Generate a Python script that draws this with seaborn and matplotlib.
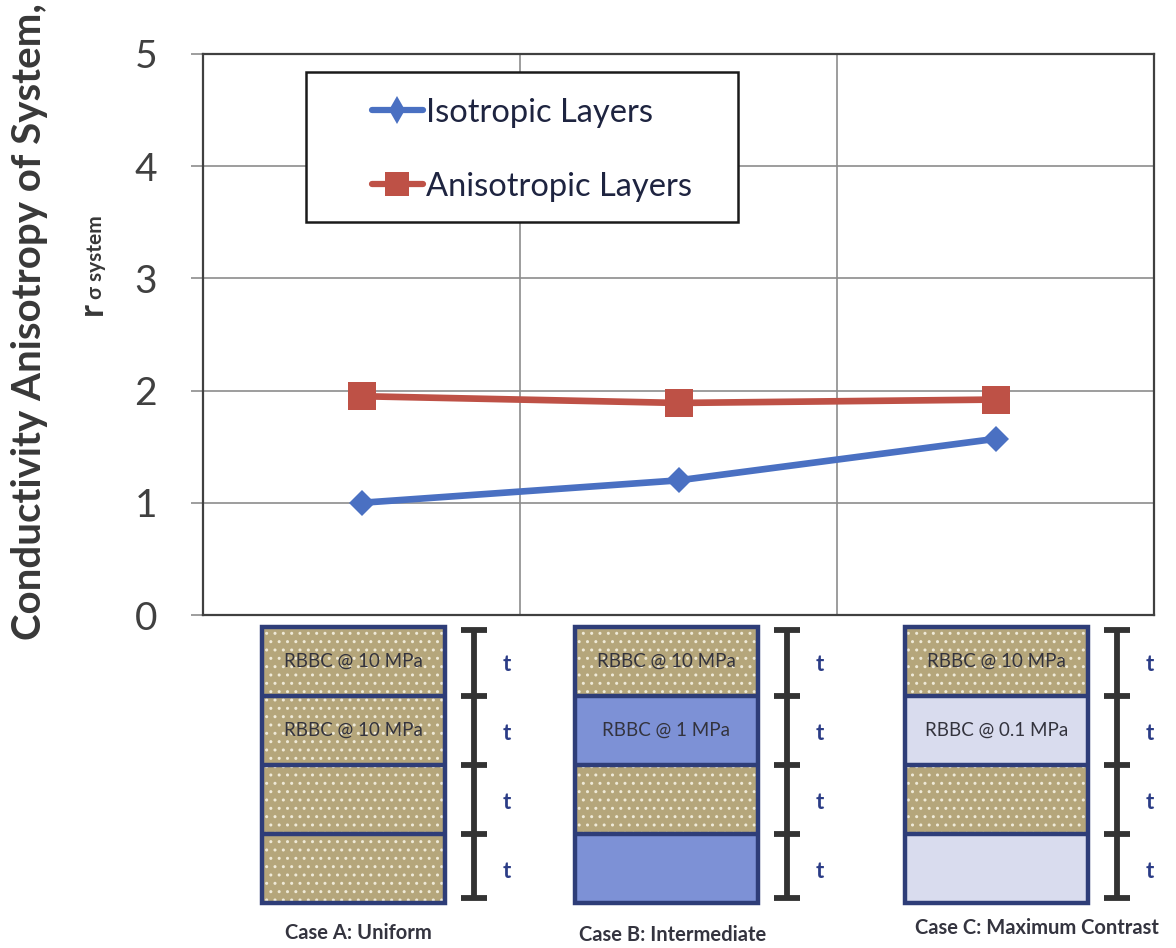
import numpy as np
import pandas as pd
import matplotlib
matplotlib.use("Agg")
import matplotlib.pyplot as plt
from matplotlib.patches import Rectangle
from matplotlib.lines import Line2D
import seaborn as sns

# ---- data -------------------------------------------------------------
cases = ["Case A: Uniform", "Case B: Intermediate", "Case C: Maximum Contrast"]
isotropic = [1.00, 1.20, 1.57]
anisotropic = [1.95, 1.89, 1.92]
series_names = ["Isotropic Layers", "Anisotropic Layers"]
y_ticks = [0, 1, 2, 3, 4, 5]

# layer stacks drawn beneath each case, top to bottom (consolidation stress, MPa)
layer_stress = [
    ["10", "10", "10", "10"],
    ["10", "1", "10", "1"],
    ["10", "0.1", "10", "0.1"],
]
layer_text = [
    ["RBBC @ 10 MPa", "RBBC @ 10 MPa", "", ""],
    ["RBBC @ 10 MPa", "RBBC @ 1 MPa", "", ""],
    ["RBBC @ 10 MPa", "RBBC @ 0.1 MPa", "", ""],
]
thickness_label = "t"

# ---- styling ------------------------------------------------------------
W, H = 1176, 948
sns.set_theme(style="white")
plt.rcParams["font.family"] = ["Lato", "DejaVu Sans"]
plt.rcParams["hatch.linewidth"] = 1.0

colors = {"Isotropic Layers": "#4A70C2", "Anisotropic Layers": "#BE5146"}
markers = {"Isotropic Layers": ("D", 13.5), "Anisotropic Layers": ("s", 19.5)}
layer_fill = {"10": "#B5A67B", "1": "#7D91D6", "0.1": "#D9DCEE"}
layer_dotted = {"10": True, "1": False, "0.1": False}
frame_col = "#2E3D78"
text_dark = "#383838"

df = pd.DataFrame({
    "case": cases * 2,
    "pos": list(range(1, len(cases) + 1)) * 2,
    "value": isotropic + anisotropic,
    "series": [series_names[0]] * len(cases) + [series_names[1]] * len(cases),
})

fig = plt.figure(figsize=(W / 100, H / 100), dpi=100)
ax = fig.add_axes([203 / W, 1 - 615 / H, 951 / W, 561 / H])

for name in series_names:
    m, ms = markers[name]
    sns.lineplot(data=df[df["series"] == name], x="pos", y="value",
                 color=colors[name], linewidth=4.8, marker=m, markersize=ms,
                 markeredgewidth=0, errorbar=None, legend=False, ax=ax, zorder=3)

ax.set_xlim(0.5, 3.5)
ax.set_ylim(0, 5)
ax.set_xticks([0.5, 1.5, 2.5, 3.5])
ax.set_xticklabels([])
ax.set_yticks(y_ticks)
ax.set_yticklabels([str(v) for v in y_ticks])
ax.set_xlabel("")
ax.set_ylabel("")
ax.grid(True, color="#8C8C8C", linewidth=1.2)
ax.tick_params(axis="x", length=0)
ax.tick_params(axis="y", labelsize=28, labelcolor="#404040", length=9,
               width=1.2, color="#8C8C8C", pad=24, left=True)
for sp in ax.spines.values():
    sp.set_visible(True)
    sp.set_color("#404040")
    sp.set_linewidth(1.6)

# legend box
ax.add_patch(Rectangle((0.108, 0.700), 0.455, 0.268, transform=ax.transAxes,
                       facecolor="white", edgecolor="#1A1A1A", linewidth=1.8,
                       zorder=4))
handles = [
    Line2D([], [], color=colors["Isotropic Layers"], linewidth=4.5,
           marker="d", markersize=14, markeredgewidth=0),
    Line2D([], [], color=colors["Anisotropic Layers"], linewidth=4.5,
           marker="s", markersize=17, markeredgewidth=0),
]
leg = ax.legend(handles, series_names, loc="upper left",
                bbox_to_anchor=(0.1777, 0.922), frameon=False, borderpad=0,
                borderaxespad=0, fontsize=23.5, handlelength=1.55,
                handletextpad=0.1, labelspacing=1.35, labelcolor="#1E2440")
leg.set_zorder(5)

# axis title
fig.text(30 / W, 1 - 322 / H, "Conductivity Anisotropy of System,",
         rotation=90, ha="center", va="center", fontsize=29,
         fontweight="bold", color=text_dark)
fig.text(92 / W, 1 - 309 / H, "r", rotation=90, ha="center", va="center",
         fontsize=25, fontweight="bold", color=text_dark)
fig.text(96 / W, 1 - 257 / H, "\u03c3 system", rotation=90, ha="center",
         va="center", fontsize=15, fontweight="bold", color=text_dark,
         family=["Lato", "DejaVu Sans"])

# ---- layer sketches below each case ------------------------------------
deco = fig.add_axes([0, 0, 1, 1], zorder=-1)
deco.set_xlim(0, W)
deco.set_ylim(H, 0)
deco.axis("off")

box_left = [262, 575, 905]
box_w = 183
box_top = 627
layer_h = 69
label_x = [358, 673, 1037]
label_y = [933, 935, 928]

for c in range(len(cases)):
    x0 = box_left[c]
    for i, kind in enumerate(layer_stress[c]):
        y0 = box_top + i * layer_h
        deco.add_patch(Rectangle((x0, y0), box_w, layer_h,
                                 facecolor=layer_fill[kind], edgecolor="none",
                                 linewidth=0))
        if layer_dotted[kind]:
            deco.add_patch(Rectangle((x0, y0), box_w, layer_h,
                                     facecolor="none", edgecolor="#EFEAD8",
                                     hatch="..", linewidth=0))
        if layer_text[c][i]:
            deco.text(x0 + box_w / 2, y0 + layer_h / 2, layer_text[c][i],
                      ha="center", va="center", fontsize=13.5,
                      color="#33333D")
        deco.text(x0 + box_w + 62, y0 + layer_h / 2 + 3, thickness_label,
                  ha="center", va="center", fontsize=16, fontweight="bold",
                  color="#2B3C86")
    for i in range(1, len(layer_stress[c])):
        yb = box_top + i * layer_h
        deco.plot([x0, x0 + box_w], [yb, yb], color=frame_col, linewidth=3.2,
                  solid_capstyle="butt")
    deco.add_patch(Rectangle((x0, box_top), box_w, layer_h * 4,
                             facecolor="none", edgecolor=frame_col,
                             linewidth=3.2))
    # thickness scale bar
    bx = x0 + box_w + 29
    y_top = box_top + 3
    y_bot = box_top + 4 * layer_h - 5
    deco.plot([bx, bx], [y_top, y_bot], color="#333333", linewidth=4.2,
              solid_capstyle="butt")
    ticks_y = [y_top] + [box_top + i * layer_h for i in range(1, 4)] + [y_bot]
    for ty in ticks_y:
        deco.plot([bx - 13, bx + 13], [ty, ty], color="#333333",
                  linewidth=4.2, solid_capstyle="butt")
    deco.text(label_x[c], label_y[c], cases[c], ha="center", va="center",
              fontsize=14.5, fontweight="bold", color="#34343F")

fig.savefig("out.png", dpi=100)
